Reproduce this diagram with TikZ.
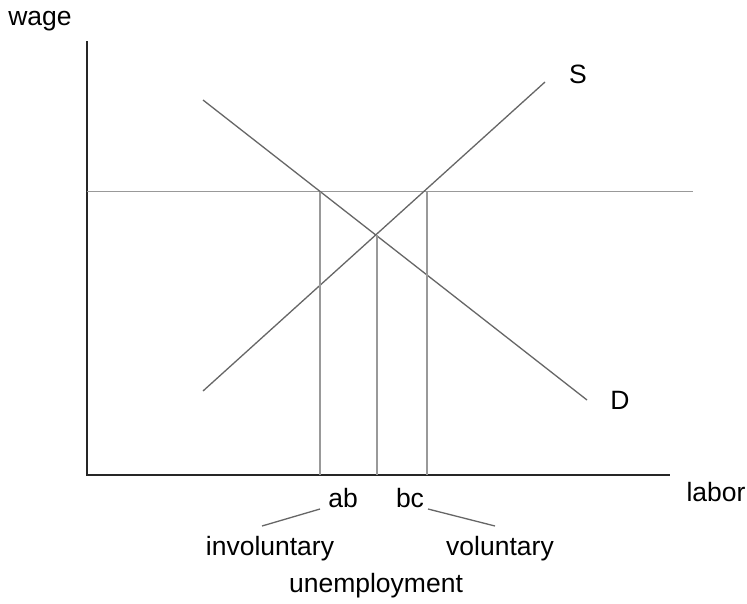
\documentclass[tikz,border=0pt]{standalone}
\usepackage{fontspec}
\setmainfont{Liberation Sans}
\begin{document}
\begin{tikzpicture}[x=1pt,y=-1pt,
  axis/.style={line width=1.3pt,black!85},
  curve/.style={line width=1.3pt,black!60},
  guide/.style={line width=1.1pt,black!40},
  lbl/.style={font=\fontsize{26.5}{30}\selectfont,inner sep=0pt}]
\useasboundingbox[fill=white] (0,0) rectangle (747,603);
% axes
\coordinate (O) at (87,475);
\coordinate (ytop) at (87,41);
\coordinate (xend) at (670,475);
\draw[axis] (ytop) -- (O) -- (xend);
% wage line
\coordinate (w0) at (87,191.5);
\coordinate (w1) at (693,191.5);
\draw[guide] (w0) -- (w1);
% supply and demand
\coordinate (s0) at (203,391);
\coordinate (s1) at (545,82);
\coordinate (d0) at (203,100);
\coordinate (d1) at (587,400);
\draw[curve] (s0) -- (s1);
\draw[curve] (d0) -- (d1);
% guide verticals
\coordinate (a) at (320,191.5);
\coordinate (b) at (377,235);
\coordinate (c) at (427,191.5);
\draw[guide] (a) -- (a |- O);
\draw[guide] (b) -- (b |- O);
\draw[guide] (c) -- (c |- O);
% labels
\node[lbl] (wage) at (40,21) {wage};
\node[lbl] (S) at (578,74) {S};
\node[lbl] (D) at (620,400) {D};
\node[lbl] (labor) at (716,492) {labor};
\node[lbl] (ab) at (343,498) {ab};
\node[lbl] (bc) at (410,498) {bc};
\node[lbl] (inv) at (270,549) {involuntary};
\node[lbl] (vol) at (500,549) {voluntary};
\node[lbl] (unemp) at (376,586) {unemployment};
\coordinate (l0) at (262,526);
\coordinate (l1) at (320,509);
\coordinate (r0) at (428,509);
\coordinate (r1) at (495,526);
\draw[curve] (l0) -- (l1);
\draw[curve] (r0) -- (r1);
\end{tikzpicture}
\end{document}
